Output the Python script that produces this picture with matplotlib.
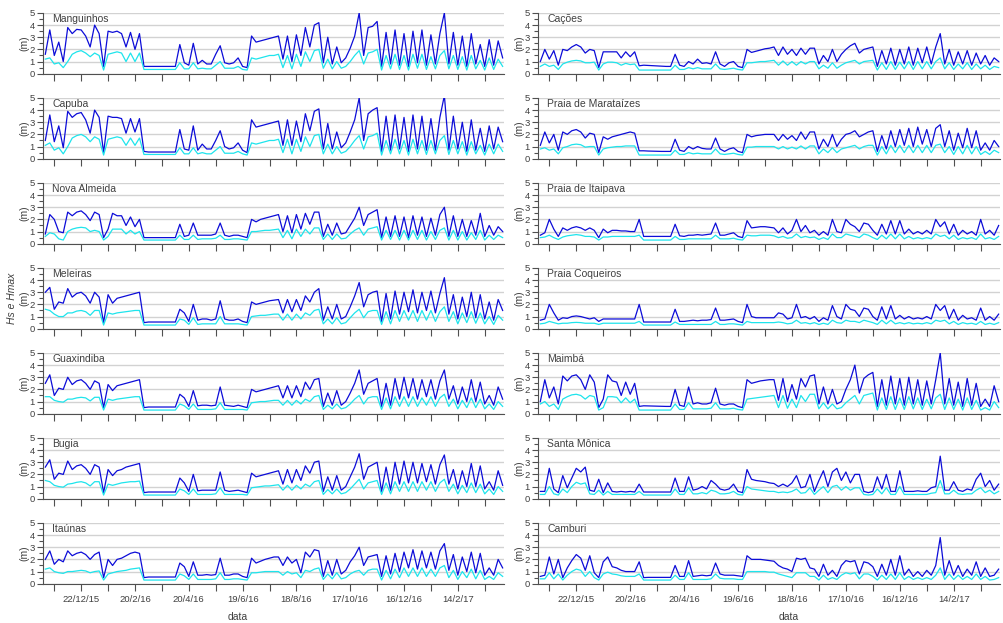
import matplotlib
matplotlib.use('Agg')
import matplotlib.pyplot as plt
import numpy as np
import pandas as pd

plt.rcParams['font.family'] = ['Liberation Sans', 'DejaVu Sans']

# datas das leituras (uma a cada 5 dias)
datas = pd.date_range('2015-11-12', periods=103, freq='5D')

estacoes_esq = ['Manguinhos', 'Capuba', 'Nova Almeida', 'Meleiras',
                'Guaxindiba', 'Bugia', 'Itaúnas']
estacoes_dir = ['Cações', 'Praia de Marataízes', 'Praia de Itaipava',
                'Praia Coqueiros', 'Maimbá', 'Santa Mônica', 'Camburi']

#******************************  Manguinhos

hmax_manguinhos = [1.6, 3.6, 1.5, 2.6, 1.0, 3.8, 3.3, 3.65, 3.6, 3.1,
                   2.2, 4.0, 3.3, 0.6, 3.5, 3.4, 3.5, 3.3, 2.2, 3.4,
                   2.0, 3.3, 0.6, 0.6, 0.6, 0.6, 0.6, 0.6, 0.6, 0.6,
                   2.4, 0.9, 0.7, 2.5, 0.8, 1.1, 0.8, 0.8, 1.6, 2.3,
                   0.9, 0.8, 0.9, 1.3, 0.6, 0.5, 3.1, 2.6, 2.7, 2.8,
                   2.9, 3.0, 3.1, 1.2, 3.1, 1.0, 3.2, 1.5, 3.8, 2.2,
                   4.0, 4.2, 0.9, 3.0, 0.8, 2.2, 0.9, 1.3, 2.1, 3.1,
                   5.0, 1.5, 3.8, 3.9, 4.3, 0.6, 3.4, 0.8, 3.6, 0.7,
                   3.3, 0.6, 3.5, 0.9, 3.6, 0.7, 3.2, 0.8, 3.3, 5.0,
                   0.8, 3.4, 0.7, 3.1, 0.6, 3.3, 0.8, 2.4, 0.6, 2.8,
                   0.7, 2.7, 1.3]
hs_manguinhos = [1.2, 1.3, 0.8, 0.9, 0.5, 1.0, 1.6, 1.8, 1.9, 1.7,
                 1.4, 1.7, 1.5, 0.3, 1.6, 1.7, 1.8, 1.7, 1.0, 1.7,
                 1.0, 1.7, 0.35, 0.35, 0.35, 0.35, 0.35, 0.35, 0.35, 0.35,
                 0.9, 0.4, 0.4, 0.9, 0.4, 0.45, 0.4, 0.4, 0.7, 1.0,
                 0.45, 0.45, 0.45, 0.6, 0.35, 0.3, 1.3, 1.2, 1.3, 1.4,
                 1.5, 1.5, 1.6, 0.5, 1.5, 0.4, 1.6, 0.6, 1.8, 1.0,
                 1.9, 2.0, 0.45, 1.2, 0.4, 1.0, 0.45, 0.6, 1.0, 1.5,
                 1.9, 0.8, 1.7, 1.8, 2.0, 0.3, 1.5, 0.4, 1.6, 0.35,
                 1.5, 0.3, 1.6, 0.45, 1.6, 0.35, 1.4, 0.4, 1.5, 1.9,
                 0.4, 1.5, 0.35, 1.4, 0.3, 1.5, 0.4, 1.1, 0.3, 1.3,
                 0.35, 1.2, 0.6]

#******************************  Capuba

hmax_capuba = [1.5, 3.6, 1.4, 2.7, 0.9, 3.9, 3.4, 3.7, 3.8, 3.2,
               2.1, 4.0, 3.4, 0.5, 3.5, 3.4, 3.4, 3.3, 2.1, 3.3,
               2.2, 3.3, 0.6, 0.55, 0.55, 0.55, 0.55, 0.55, 0.55, 0.55,
               2.4, 0.8, 0.7, 2.7, 0.7, 1.2, 0.8, 0.8, 1.5, 2.3,
               1.0, 0.8, 0.9, 1.3, 0.7, 0.5, 3.2, 2.6, 2.7, 2.8,
               2.9, 3.0, 3.1, 1.1, 3.2, 1.1, 3.1, 1.4, 3.7, 2.3,
               3.9, 4.1, 0.8, 2.9, 0.8, 2.2, 0.9, 1.3, 2.2, 3.2,
               5.0, 1.5, 3.7, 4.0, 4.2, 0.6, 3.5, 0.7, 3.6, 0.8,
               3.4, 0.6, 3.6, 0.8, 3.5, 0.7, 3.3, 0.7, 3.4, 5.2,
               0.7, 3.5, 0.8, 3.0, 0.6, 3.2, 0.7, 2.5, 0.6, 2.7,
               0.8, 2.6, 1.4]
hs_capuba = [1.1, 1.3, 0.7, 0.9, 0.4, 1.0, 1.7, 1.9, 2.0, 1.8,
             1.4, 1.8, 1.6, 0.3, 1.6, 1.7, 1.8, 1.7, 1.1, 1.7,
             1.1, 1.7, 0.35, 0.35, 0.35, 0.35, 0.35, 0.35, 0.35, 0.35,
             0.9, 0.4, 0.4, 0.9, 0.4, 0.5, 0.4, 0.4, 0.7, 1.0,
             0.45, 0.45, 0.45, 0.6, 0.4, 0.3, 1.3, 1.2, 1.3, 1.4,
             1.5, 1.5, 1.6, 0.5, 1.6, 0.4, 1.6, 0.6, 1.8, 1.0,
             1.9, 2.0, 0.4, 1.2, 0.4, 1.0, 0.45, 0.6, 1.0, 1.5,
             1.9, 0.8, 1.8, 1.9, 2.1, 0.3, 1.5, 0.4, 1.6, 0.4,
             1.5, 0.3, 1.6, 0.4, 1.5, 0.35, 1.5, 0.4, 1.5, 1.9,
             0.35, 1.5, 0.4, 1.4, 0.3, 1.4, 0.4, 1.1, 0.3, 1.2,
             0.4, 1.2, 0.6]

#******************************  Nova Almeida

hmax_nova_almeida = [0.8, 2.4, 2.0, 1.0, 0.9, 2.6, 2.3, 2.6, 2.7, 2.4,
                     1.9, 2.6, 2.4, 0.5, 1.2, 2.5, 2.3, 2.3, 1.5, 2.2,
                     1.4, 2.0, 0.5, 0.5, 0.5, 0.5, 0.5, 0.5, 0.5, 0.5,
                     1.6, 0.6, 0.7, 1.7, 0.7, 0.7, 0.7, 0.7, 0.8, 1.7,
                     0.7, 0.6, 0.7, 0.7, 0.6, 0.5, 2.0, 1.8, 2.0, 2.1,
                     2.2, 2.3, 2.4, 1.0, 2.3, 0.9, 2.4, 1.2, 2.5, 1.6,
                     2.6, 2.6, 0.6, 1.6, 0.7, 1.7, 0.8, 0.9, 1.5, 2.1,
                     3.0, 1.5, 2.4, 2.6, 2.8, 0.5, 2.2, 0.6, 2.3, 0.6,
                     2.2, 0.5, 2.3, 0.7, 2.2, 0.6, 2.1, 0.7, 2.4, 3.0,
                     0.6, 2.3, 0.6, 2.0, 0.6, 1.9, 0.7, 2.5, 0.6, 1.5,
                     0.7, 1.4, 1.0]
hs_nova_almeida = [0.6, 0.9, 0.8, 0.4, 0.3, 1.0, 1.2, 1.3, 1.35, 1.3,
                   1.0, 1.1, 1.0, 0.3, 0.6, 1.2, 1.2, 1.2, 0.8, 1.1,
                   0.8, 1.0, 0.3, 0.3, 0.3, 0.3, 0.3, 0.3, 0.3, 0.3,
                   0.7, 0.35, 0.35, 0.7, 0.35, 0.4, 0.4, 0.4, 0.45, 0.7,
                   0.35, 0.35, 0.4, 0.4, 0.35, 0.3, 1.0, 1.0, 1.05, 1.1,
                   1.1, 1.15, 1.2, 0.5, 1.1, 0.4, 1.2, 0.6, 1.2, 0.8,
                   1.3, 1.3, 0.35, 0.8, 0.35, 0.8, 0.4, 0.45, 0.8, 1.1,
                   1.3, 0.7, 1.2, 1.3, 1.4, 0.3, 1.1, 0.35, 1.1, 0.3,
                   1.1, 0.3, 1.1, 0.35, 1.1, 0.3, 1.0, 0.35, 1.1, 1.3,
                   0.3, 1.1, 0.3, 1.0, 0.3, 0.9, 0.35, 1.1, 0.3, 0.7,
                   0.35, 0.7, 0.5]

#******************************  Meleiras

hmax_meleiras = [3.0, 3.4, 1.6, 2.2, 2.1, 3.3, 2.6, 2.9, 3.0, 2.7,
                 2.1, 3.0, 2.6, 0.5, 2.8, 2.1, 2.5, 2.6, 2.7, 2.8,
                 2.9, 3.0, 0.5, 0.55, 0.55, 0.55, 0.55, 0.55, 0.55, 0.55,
                 1.6, 1.3, 0.6, 2.0, 0.7, 0.8, 0.8, 0.7, 0.8, 2.3,
                 0.8, 0.7, 0.7, 0.8, 0.6, 0.5, 2.2, 2.0, 2.1, 2.2,
                 2.3, 2.35, 2.4, 1.3, 2.4, 1.4, 2.4, 1.5, 2.7, 2.2,
                 3.0, 3.3, 0.7, 1.8, 0.8, 2.0, 0.8, 1.0, 1.8, 2.7,
                 3.8, 1.8, 2.8, 3.0, 3.1, 0.6, 2.9, 0.8, 3.1, 1.2,
                 3.0, 1.4, 3.2, 1.3, 3.0, 1.5, 3.1, 1.3, 2.9, 4.2,
                 1.2, 2.8, 0.8, 2.6, 1.0, 3.0, 0.9, 2.8, 0.8, 2.2,
                 0.7, 2.4, 1.5]
hs_meleiras = [1.6, 1.5, 1.2, 1.0, 1.0, 1.3, 1.3, 1.45, 1.5, 1.4,
               1.1, 1.5, 1.5, 0.3, 1.3, 1.2, 1.3, 1.35, 1.4, 1.45,
               1.5, 1.5, 0.3, 0.3, 0.3, 0.3, 0.3, 0.3, 0.3, 0.3,
               0.8, 0.7, 0.35, 0.9, 0.35, 0.4, 0.4, 0.4, 0.4, 1.0,
               0.4, 0.4, 0.4, 0.4, 0.35, 0.3, 1.0, 1.05, 1.1, 1.1,
               1.15, 1.2, 1.2, 0.7, 1.2, 0.7, 1.2, 0.8, 1.3, 1.1,
               1.5, 1.6, 0.4, 0.8, 0.4, 0.9, 0.4, 0.5, 0.9, 1.3,
               1.6, 0.9, 1.4, 1.5, 1.5, 0.35, 1.4, 0.4, 1.5, 0.6,
               1.5, 0.7, 1.5, 0.6, 1.5, 0.7, 1.5, 0.6, 1.4, 1.8,
               0.6, 1.4, 0.4, 1.3, 0.5, 1.4, 0.45, 1.3, 0.4, 1.0,
               0.35, 1.1, 0.7]

#******************************  Guaxindiba

hmax_guaxindiba = [2.5, 3.2, 1.5, 2.1, 2.0, 3.0, 2.4, 2.7, 2.8, 2.5,
                   2.0, 2.7, 2.5, 0.5, 2.4, 1.9, 2.3, 2.4, 2.5, 2.6,
                   2.7, 2.8, 0.5, 0.55, 0.55, 0.55, 0.55, 0.55, 0.55, 0.55,
                   1.6, 1.3, 0.6, 1.9, 0.65, 0.7, 0.7, 0.65, 0.7, 2.2,
                   0.7, 0.65, 0.6, 0.7, 0.6, 0.5, 2.0, 1.8, 1.9, 2.0,
                   2.1, 2.2, 2.3, 1.3, 2.3, 1.3, 2.3, 1.4, 2.6, 2.0,
                   2.8, 2.9, 0.6, 1.7, 0.7, 1.9, 0.7, 1.0, 1.7, 2.5,
                   3.6, 1.6, 2.5, 2.7, 2.9, 0.6, 2.5, 0.7, 2.9, 1.2,
                   3.0, 1.3, 2.9, 1.2, 2.8, 1.4, 2.8, 1.2, 2.7, 3.6,
                   1.2, 2.3, 0.8, 2.2, 1.0, 2.8, 1.0, 2.6, 0.8, 1.5,
                   0.7, 2.2, 1.2]
hs_guaxindiba = [1.4, 1.4, 1.1, 1.0, 0.95, 1.2, 1.2, 1.3, 1.35, 1.3,
                 1.05, 1.35, 1.35, 0.3, 1.2, 1.1, 1.2, 1.25, 1.3, 1.35,
                 1.4, 1.4, 0.3, 0.3, 0.3, 0.3, 0.3, 0.3, 0.3, 0.3,
                 0.8, 0.65, 0.35, 0.8, 0.35, 0.35, 0.35, 0.35, 0.4, 0.9,
                 0.35, 0.35, 0.35, 0.35, 0.35, 0.3, 0.9, 0.95, 1.0, 1.0,
                 1.05, 1.1, 1.1, 0.7, 1.1, 0.7, 1.1, 0.8, 1.2, 1.0,
                 1.4, 1.5, 0.35, 0.7, 0.4, 0.8, 0.4, 0.5, 0.8, 1.2,
                 1.5, 0.8, 1.3, 1.4, 1.4, 0.35, 1.3, 0.4, 1.4, 0.6,
                 1.4, 0.6, 1.4, 0.6, 1.3, 0.7, 1.4, 0.6, 1.3, 1.6,
                 0.6, 1.2, 0.4, 1.1, 0.5, 1.3, 0.5, 1.2, 0.4, 0.8,
                 0.35, 1.0, 0.6]

#******************************  Bugia

hmax_bugia = [2.6, 3.2, 1.6, 2.1, 2.0, 3.1, 2.4, 2.7, 2.8, 2.5,
              2.0, 2.8, 2.6, 0.5, 2.4, 1.9, 2.3, 2.4, 2.6, 2.7,
              2.8, 2.9, 0.5, 0.55, 0.55, 0.55, 0.55, 0.55, 0.55, 0.55,
              1.7, 1.3, 0.6, 2.0, 0.65, 0.7, 0.7, 0.7, 0.7, 2.2,
              0.7, 0.6, 0.65, 0.7, 0.6, 0.5, 2.1, 1.8, 1.9, 2.0,
              2.1, 2.2, 2.3, 1.2, 2.4, 1.3, 2.4, 1.5, 2.7, 2.1,
              3.0, 3.1, 0.6, 1.8, 0.7, 1.9, 0.7, 1.0, 1.8, 2.6,
              3.7, 1.6, 2.6, 2.8, 3.0, 0.6, 2.6, 0.7, 3.0, 1.2,
              3.1, 1.3, 3.0, 1.3, 2.9, 1.4, 2.8, 1.2, 2.8, 3.6,
              1.2, 2.4, 0.8, 2.3, 1.0, 2.9, 1.0, 2.7, 0.8, 1.4,
              0.7, 2.3, 1.1]
hs_bugia = [1.5, 1.4, 1.1, 1.0, 0.95, 1.2, 1.25, 1.35, 1.4, 1.3,
            1.05, 1.4, 1.4, 0.3, 1.2, 1.1, 1.2, 1.3, 1.35, 1.4,
            1.4, 1.45, 0.3, 0.3, 0.3, 0.3, 0.3, 0.3, 0.3, 0.3,
            0.8, 0.65, 0.35, 0.8, 0.35, 0.35, 0.35, 0.35, 0.4, 0.9,
            0.35, 0.35, 0.35, 0.35, 0.35, 0.3, 0.9, 0.95, 1.0, 1.05,
            1.05, 1.1, 1.15, 0.7, 1.1, 0.7, 1.1, 0.8, 1.2, 1.0,
            1.4, 1.5, 0.35, 0.75, 0.4, 0.8, 0.4, 0.5, 0.8, 1.2,
            1.6, 0.8, 1.3, 1.4, 1.5, 0.35, 1.3, 0.4, 1.4, 0.6,
            1.4, 0.6, 1.4, 0.6, 1.4, 0.7, 1.4, 0.6, 1.3, 1.6,
            0.6, 1.2, 0.4, 1.1, 0.5, 1.3, 0.5, 1.2, 0.4, 0.8,
            0.35, 1.0, 0.6]

#******************************  Itaúnas

hmax_itaunas = [2.0, 2.7, 1.6, 2.0, 1.8, 2.7, 2.3, 2.5, 2.6, 2.4,
                2.0, 2.4, 2.6, 0.5, 2.0, 1.5, 2.0, 2.1, 2.3, 2.5,
                2.6, 2.5, 0.5, 0.55, 0.55, 0.55, 0.55, 0.55, 0.55, 0.55,
                1.7, 1.4, 0.6, 1.8, 0.7, 0.7, 0.75, 0.7, 0.75, 2.1,
                0.7, 0.7, 0.8, 0.8, 0.6, 0.5, 2.1, 1.7, 1.85, 2.0,
                2.1, 2.2, 2.2, 1.5, 2.2, 1.7, 2.0, 0.9, 2.6, 2.2,
                2.8, 2.7, 0.6, 1.9, 0.7, 2.0, 0.8, 1.1, 1.8, 2.3,
                3.0, 1.5, 2.2, 2.3, 2.4, 0.6, 2.3, 0.8, 2.5, 1.0,
                2.6, 1.3, 2.8, 1.2, 2.7, 1.3, 2.6, 1.2, 2.7, 3.3,
                1.1, 2.4, 0.7, 2.2, 1.0, 2.6, 0.9, 2.5, 0.7, 1.3,
                0.7, 2.0, 1.3]
hs_itaunas = [1.2, 1.3, 1.0, 0.9, 0.85, 1.0, 1.0, 1.05, 1.1, 1.05,
              0.9, 1.0, 1.05, 0.3, 0.8, 0.9, 1.0, 1.05, 1.1, 1.2,
              1.25, 1.3, 0.3, 0.3, 0.3, 0.3, 0.3, 0.3, 0.3, 0.3,
              0.8, 0.65, 0.35, 0.8, 0.35, 0.35, 0.35, 0.35, 0.4, 0.9,
              0.35, 0.35, 0.4, 0.4, 0.35, 0.3, 0.9, 0.9, 0.95, 1.0,
              1.0, 1.0, 1.0, 0.7, 1.0, 0.8, 0.9, 0.5, 1.1, 1.0,
              1.2, 1.3, 0.35, 0.8, 0.4, 0.9, 0.4, 0.5, 0.8, 1.0,
              1.1, 0.7, 1.1, 1.2, 1.2, 0.3, 1.1, 0.4, 1.2, 0.5,
              1.3, 0.6, 1.3, 0.6, 1.3, 0.6, 1.2, 0.6, 1.3, 1.5,
              0.5, 1.1, 0.35, 1.0, 0.5, 1.2, 0.4, 1.1, 0.35, 0.6,
              0.35, 0.9, 0.6]

#******************************  Cações

hmax_cacoes = [1.0, 2.0, 1.2, 1.9, 0.7, 2.0, 1.9, 2.2, 2.4, 2.2,
               1.7, 2.0, 1.9, 0.5, 1.8, 1.8, 1.8, 1.8, 1.3, 1.8,
               1.4, 1.8, 0.65, 0.7, 0.68, 0.66, 0.64, 0.62, 0.6, 0.6,
               1.6, 0.7, 0.6, 1.0, 0.8, 1.2, 0.85, 0.9, 0.8, 1.8,
               0.8, 0.6, 0.9, 1.0, 0.6, 0.5, 2.0, 1.75, 1.85, 1.95,
               2.05, 2.1, 2.2, 1.5, 2.2, 1.6, 2.0, 1.5, 2.1, 1.6,
               2.1, 2.1, 0.8, 1.5, 1.0, 2.0, 1.0, 1.6, 2.0, 2.3,
               2.5, 1.7, 2.0, 2.1, 2.2, 0.6, 1.9, 0.8, 2.1, 0.7,
               2.0, 0.8, 2.2, 0.7, 2.1, 0.9, 2.2, 0.8, 2.2, 3.3,
               0.8, 2.0, 0.7, 1.8, 0.8, 1.9, 0.7, 1.7, 0.8, 1.5,
               0.7, 1.3, 1.0]
hs_cacoes = [0.6, 0.8, 0.6, 0.7, 0.35, 0.8, 0.95, 1.05, 1.1, 1.05,
             0.9, 0.9, 0.95, 0.3, 0.8, 0.95, 0.95, 0.9, 0.7, 0.85,
             0.75, 0.8, 0.3, 0.3, 0.3, 0.3, 0.3, 0.3, 0.3, 0.3,
             0.7, 0.35, 0.35, 0.5, 0.4, 0.5, 0.4, 0.4, 0.4, 0.8,
             0.4, 0.35, 0.4, 0.45, 0.35, 0.3, 0.9, 0.9, 0.95, 1.0,
             1.0, 1.05, 1.1, 0.7, 1.05, 0.7, 1.0, 0.7, 1.0, 0.8,
             1.0, 1.0, 0.4, 0.7, 0.45, 0.9, 0.45, 0.7, 0.9, 1.0,
             1.1, 0.8, 1.0, 1.05, 1.1, 0.3, 0.9, 0.35, 1.0, 0.35,
             0.95, 0.4, 1.0, 0.35, 1.0, 0.4, 1.0, 0.4, 1.0, 1.3,
             0.4, 0.9, 0.35, 0.8, 0.4, 0.9, 0.35, 0.8, 0.4, 0.7,
             0.35, 0.6, 0.5]

#******************************  Praia de Marataízes

hmax_marataizes = [1.1, 2.2, 1.3, 2.0, 0.7, 2.2, 2.0, 2.3, 2.4, 2.2,
                   1.7, 2.1, 2.0, 0.5, 1.8, 1.6, 1.8, 1.9, 2.0, 2.1,
                   2.2, 2.1, 0.65, 0.65, 0.63, 0.62, 0.61, 0.6, 0.6, 0.6,
                   1.6, 0.7, 0.6, 1.0, 0.8, 1.0, 0.85, 0.8, 0.8, 1.7,
                   0.8, 0.6, 0.8, 0.9, 0.6, 0.5, 2.0, 1.8, 1.9, 1.95,
                   2.0, 2.0, 2.0, 1.5, 2.0, 1.6, 1.9, 1.5, 2.2, 1.6,
                   2.2, 2.2, 0.8, 1.6, 1.0, 2.0, 1.0, 1.6, 2.0, 2.1,
                   2.3, 1.8, 2.0, 2.2, 2.3, 0.6, 1.9, 0.8, 2.3, 1.0,
                   2.4, 1.1, 2.5, 1.0, 2.6, 1.2, 2.4, 1.0, 2.5, 2.8,
                   1.0, 2.3, 0.7, 2.1, 0.9, 2.5, 0.9, 2.3, 0.7, 1.3,
                   0.7, 1.5, 1.0]
hs_marataizes = [0.8, 0.9, 0.7, 0.8, 0.4, 0.9, 1.0, 1.15, 1.2, 1.15,
                 0.95, 1.0, 1.0, 0.3, 0.8, 0.9, 0.95, 1.0, 1.0, 1.05,
                 1.05, 1.05, 0.3, 0.3, 0.3, 0.3, 0.3, 0.3, 0.3, 0.3,
                 0.7, 0.35, 0.35, 0.5, 0.4, 0.45, 0.4, 0.4, 0.4, 0.8,
                 0.4, 0.35, 0.4, 0.45, 0.35, 0.3, 0.95, 0.95, 1.0, 1.0,
                 1.0, 1.0, 1.0, 0.8, 1.0, 0.8, 0.95, 0.8, 1.05, 0.8,
                 1.05, 1.05, 0.4, 0.8, 0.5, 0.9, 0.5, 0.8, 0.9, 1.0,
                 1.1, 0.8, 1.0, 1.1, 1.1, 0.3, 1.0, 0.4, 1.1, 0.5,
                 1.1, 0.5, 1.1, 0.5, 1.1, 0.5, 1.1, 0.5, 1.1, 1.2,
                 0.5, 1.0, 0.35, 1.0, 0.4, 1.1, 0.4, 1.0, 0.35, 0.6,
                 0.35, 0.7, 0.5]

#******************************  Praia de Itaipava

hmax_itaipava = [0.7, 0.9, 2.0, 1.2, 0.6, 1.3, 1.1, 1.3, 1.4, 1.3,
                 1.1, 1.3, 1.1, 0.5, 1.2, 0.9, 1.1, 1.1, 1.05, 1.05,
                 1.0, 1.0, 2.0, 0.6, 0.6, 0.6, 0.6, 0.6, 0.6, 0.6,
                 1.6, 0.65, 0.6, 0.7, 0.7, 0.75, 0.7, 0.75, 0.8, 1.7,
                 0.7, 0.7, 0.8, 0.9, 0.6, 0.5, 1.9, 1.3, 1.35, 1.4,
                 1.4, 1.35, 1.3, 0.9, 1.3, 0.8, 1.1, 2.0, 1.0, 1.5,
                 0.9, 1.1, 0.7, 1.0, 0.7, 2.0, 1.0, 0.9, 2.0, 1.6,
                 1.4, 1.0, 1.7, 1.6, 1.1, 0.7, 1.6, 0.8, 1.9, 0.8,
                 1.9, 0.8, 1.2, 0.8, 1.0, 0.8, 1.1, 0.8, 2.0, 1.4,
                 1.8, 0.8, 1.6, 0.7, 1.1, 0.8, 1.0, 0.7, 2.0, 0.8,
                 1.1, 0.7, 1.5]
hs_itaipava = [0.5, 0.55, 0.7, 0.5, 0.35, 0.55, 0.65, 0.7, 0.75, 0.7,
               0.6, 0.6, 0.55, 0.3, 0.55, 0.55, 0.6, 0.6, 0.6, 0.6,
               0.6, 0.6, 0.7, 0.3, 0.3, 0.3, 0.3, 0.3, 0.3, 0.3,
               0.6, 0.35, 0.35, 0.4, 0.4, 0.4, 0.4, 0.4, 0.4, 0.7,
               0.4, 0.4, 0.4, 0.45, 0.35, 0.3, 0.7, 0.65, 0.65, 0.7,
               0.7, 0.7, 0.65, 0.5, 0.6, 0.45, 0.5, 0.8, 0.5, 0.6,
               0.5, 0.55, 0.35, 0.5, 0.35, 0.8, 0.5, 0.5, 0.8, 0.7,
               0.6, 0.5, 0.8, 0.7, 0.5, 0.35, 0.7, 0.4, 0.8, 0.4,
               0.8, 0.4, 0.6, 0.4, 0.5, 0.4, 0.5, 0.4, 0.8, 0.6,
               0.7, 0.4, 0.7, 0.35, 0.5, 0.4, 0.5, 0.35, 0.8, 0.4,
               0.5, 0.35, 0.6]

#******************************  Praia Coqueiros

hmax_coqueiros = [0.7, 0.8, 2.0, 1.3, 0.7, 0.9, 0.85, 1.0, 1.05, 1.0,
                  0.9, 0.8, 0.9, 0.6, 0.8, 0.8, 0.8, 0.8, 0.8, 0.8,
                  0.8, 0.8, 2.0, 0.55, 0.55, 0.55, 0.55, 0.55, 0.55, 0.55,
                  1.6, 0.6, 0.6, 0.65, 0.7, 0.65, 0.7, 0.7, 0.75, 1.7,
                  0.7, 0.7, 0.75, 0.8, 0.6, 0.5, 2.0, 1.0, 0.9, 0.9,
                  0.9, 0.9, 0.9, 1.3, 1.2, 0.8, 0.9, 2.0, 0.9, 1.0,
                  0.8, 1.0, 0.6, 0.9, 0.7, 1.9, 1.0, 0.8, 2.0, 1.6,
                  1.5, 1.0, 1.7, 1.6, 1.0, 0.7, 1.8, 0.8, 1.9, 0.8,
                  1.1, 0.8, 1.0, 0.8, 0.9, 0.8, 1.0, 0.8, 2.0, 1.5,
                  1.9, 0.8, 1.6, 0.7, 1.1, 0.8, 0.9, 0.7, 1.7, 0.7,
                  1.0, 0.7, 1.2]
hs_coqueiros = [0.4, 0.45, 0.6, 0.5, 0.4, 0.45, 0.45, 0.5, 0.52, 0.5,
                0.45, 0.45, 0.45, 0.35, 0.45, 0.45, 0.45, 0.45, 0.45, 0.45,
                0.45, 0.45, 0.6, 0.3, 0.3, 0.3, 0.3, 0.3, 0.3, 0.3,
                0.55, 0.35, 0.35, 0.35, 0.35, 0.35, 0.35, 0.35, 0.35, 0.6,
                0.35, 0.35, 0.4, 0.4, 0.35, 0.3, 0.6, 0.5, 0.5, 0.5,
                0.5, 0.5, 0.5, 0.55, 0.5, 0.4, 0.45, 0.7, 0.45, 0.5,
                0.4, 0.5, 0.35, 0.45, 0.35, 0.7, 0.5, 0.45, 0.7, 0.6,
                0.6, 0.5, 0.7, 0.6, 0.5, 0.35, 0.7, 0.4, 0.7, 0.4,
                0.5, 0.4, 0.5, 0.4, 0.45, 0.4, 0.5, 0.4, 0.7, 0.6,
                0.7, 0.4, 0.6, 0.35, 0.5, 0.4, 0.45, 0.35, 0.6, 0.35,
                0.45, 0.35, 0.5]

#******************************  Maimbá

hmax_maimba = [1.0, 2.8, 1.3, 2.2, 0.8, 3.1, 2.7, 3.1, 3.2, 2.8,
               2.0, 3.2, 2.6, 0.5, 1.2, 3.2, 2.7, 2.6, 1.5, 2.6,
               1.6, 2.5, 0.6, 0.65, 0.64, 0.63, 0.62, 0.61, 0.6, 0.6,
               2.0, 0.7, 0.6, 2.2, 0.8, 0.9, 0.8, 0.8, 0.9, 2.1,
               0.8, 0.7, 0.8, 0.8, 0.6, 0.5, 2.8, 2.5, 2.6, 2.7,
               2.75, 2.8, 2.8, 1.1, 2.9, 1.0, 2.4, 1.2, 2.9, 2.2,
               3.1, 3.2, 0.8, 2.2, 0.8, 2.0, 0.8, 1.0, 2.0, 2.8,
               4.0, 1.7, 2.9, 3.2, 3.4, 0.6, 2.8, 0.7, 3.1, 0.8,
               2.9, 0.7, 3.0, 0.8, 2.8, 0.7, 2.7, 0.8, 2.8, 5.0,
               0.8, 2.9, 0.7, 2.6, 0.6, 2.9, 0.7, 2.5, 0.6, 1.2,
               0.6, 2.3, 1.0]
hs_maimba = [0.8, 1.0, 0.6, 0.8, 0.35, 1.2, 1.4, 1.55, 1.6, 1.5,
             1.2, 1.5, 1.4, 0.3, 0.5, 1.4, 1.4, 1.35, 0.9, 1.3,
             0.9, 1.2, 0.3, 0.3, 0.3, 0.3, 0.3, 0.3, 0.3, 0.3,
             0.8, 0.35, 0.35, 0.9, 0.4, 0.4, 0.4, 0.4, 0.45, 0.9,
             0.4, 0.4, 0.4, 0.45, 0.35, 0.3, 1.2, 1.25, 1.3, 1.35,
             1.4, 1.45, 1.5, 0.5, 1.5, 0.45, 1.2, 0.5, 1.5, 1.0,
             1.6, 1.6, 0.4, 0.9, 0.4, 0.8, 0.4, 0.5, 0.9, 1.2,
             1.5, 0.8, 1.5, 1.6, 1.7, 0.3, 1.3, 0.35, 1.4, 0.35,
             1.3, 0.35, 1.4, 0.4, 1.3, 0.35, 1.2, 0.4, 1.3, 1.6,
             0.35, 1.3, 0.35, 1.2, 0.3, 1.3, 0.35, 1.1, 0.3, 0.5,
             0.3, 1.0, 0.5]

#******************************  Santa Mônica

hmax_santa_monica = [0.6, 0.6, 2.5, 0.8, 0.5, 1.9, 0.9, 1.7, 2.5, 2.2,
                     2.6, 0.7, 0.6, 1.6, 0.5, 1.3, 0.6, 0.55, 0.6, 0.55,
                     0.6, 0.55, 1.2, 0.55, 0.55, 0.55, 0.55, 0.55, 0.55, 0.55,
                     1.7, 0.6, 0.6, 1.8, 0.7, 0.8, 1.0, 0.8, 1.5, 1.2,
                     0.8, 0.7, 0.8, 1.2, 0.6, 0.5, 2.4, 1.6, 1.5, 1.45,
                     1.4, 1.3, 1.25, 1.0, 1.2, 1.0, 1.3, 1.9, 0.9, 1.0,
                     2.0, 0.6, 1.5, 2.3, 1.0, 2.2, 2.5, 1.5, 2.2, 1.3,
                     2.0, 2.0, 0.6, 0.5, 0.6, 1.8, 0.8, 2.0, 0.6, 0.6,
                     2.3, 0.6, 0.6, 0.6, 0.65, 0.6, 0.6, 0.9, 1.0, 3.5,
                     0.7, 0.7, 1.4, 0.7, 0.6, 0.8, 0.7, 1.6, 2.1, 1.0,
                     1.5, 0.7, 1.2]
hs_santa_monica = [0.35, 0.35, 1.0, 0.4, 0.3, 0.8, 0.5, 1.0, 1.35, 1.2,
                   1.3, 0.4, 0.35, 0.7, 0.3, 0.6, 0.35, 0.35, 0.35, 0.35,
                   0.35, 0.35, 0.6, 0.3, 0.3, 0.3, 0.3, 0.3, 0.3, 0.3,
                   0.8, 0.35, 0.35, 0.9, 0.4, 0.4, 0.5, 0.4, 0.7, 0.6,
                   0.4, 0.4, 0.45, 0.6, 0.35, 0.3, 1.0, 0.8, 0.75, 0.7,
                   0.65, 0.6, 0.6, 0.5, 0.55, 0.5, 0.6, 0.8, 0.45, 0.5,
                   0.9, 0.35, 0.7, 1.0, 0.5, 1.0, 1.1, 0.7, 1.0, 0.7,
                   0.9, 0.9, 0.35, 0.3, 0.35, 0.8, 0.4, 0.9, 0.35, 0.35,
                   1.0, 0.35, 0.35, 0.35, 0.35, 0.35, 0.35, 0.45, 0.5, 1.5,
                   0.4, 0.4, 0.7, 0.4, 0.35, 0.4, 0.4, 0.7, 0.9, 0.5,
                   0.7, 0.4, 0.6]

#******************************  Camburi

hmax_camburi = [0.6, 0.7, 2.2, 0.8, 2.0, 0.5, 1.3, 1.9, 2.4, 2.1,
                1.1, 2.3, 0.9, 0.5, 1.8, 2.2, 1.4, 1.3, 1.1, 1.0,
                1.0, 1.0, 1.8, 0.5, 0.52, 0.52, 0.52, 0.52, 0.52, 0.52,
                1.5, 0.6, 0.6, 1.9, 0.6, 0.65, 0.7, 0.65, 0.7, 1.7,
                0.8, 0.7, 0.7, 0.7, 0.65, 0.6, 2.3, 2.0, 2.0, 2.0,
                1.95, 1.9, 1.85, 1.5, 1.3, 1.2, 1.0, 2.1, 2.0, 2.1,
                1.3, 1.2, 0.6, 1.6, 0.7, 1.1, 0.6, 1.5, 1.9, 1.8,
                1.9, 0.8, 1.8, 1.7, 1.4, 0.6, 1.6, 0.7, 2.0, 0.7,
                2.3, 0.7, 1.2, 0.6, 1.0, 0.6, 1.1, 0.7, 1.5, 3.8,
                0.7, 1.9, 0.7, 1.5, 0.6, 1.2, 0.7, 1.8, 0.6, 1.3,
                0.6, 0.7, 1.2]
hs_camburi = [0.4, 0.4, 0.9, 0.4, 0.8, 0.3, 0.7, 1.0, 1.2, 1.1,
              0.6, 1.0, 0.5, 0.3, 0.8, 0.95, 0.8, 0.75, 0.65, 0.6,
              0.6, 0.6, 0.8, 0.3, 0.3, 0.3, 0.3, 0.3, 0.3, 0.3,
              0.7, 0.35, 0.35, 0.9, 0.35, 0.35, 0.35, 0.35, 0.4, 0.8,
              0.45, 0.4, 0.4, 0.4, 0.35, 0.35, 1.0, 1.0, 1.0, 1.0,
              1.0, 0.95, 0.95, 0.8, 0.7, 0.6, 0.5, 0.9, 0.9, 0.9,
              0.6, 0.6, 0.3, 0.7, 0.35, 0.5, 0.35, 0.7, 0.9, 0.8,
              0.9, 0.4, 0.8, 0.8, 0.6, 0.3, 0.7, 0.35, 0.8, 0.35,
              0.9, 0.35, 0.6, 0.35, 0.5, 0.35, 0.5, 0.35, 0.7, 1.3,
              0.35, 0.8, 0.35, 0.7, 0.35, 0.6, 0.35, 0.8, 0.35, 0.6,
              0.3, 0.35, 0.5]

#******************************

series = {
    'Manguinhos': (hmax_manguinhos, hs_manguinhos),
    'Capuba': (hmax_capuba, hs_capuba),
    'Nova Almeida': (hmax_nova_almeida, hs_nova_almeida),
    'Meleiras': (hmax_meleiras, hs_meleiras),
    'Guaxindiba': (hmax_guaxindiba, hs_guaxindiba),
    'Bugia': (hmax_bugia, hs_bugia),
    'Itaúnas': (hmax_itaunas, hs_itaunas),
    'Cações': (hmax_cacoes, hs_cacoes),
    'Praia de Marataízes': (hmax_marataizes, hs_marataizes),
    'Praia de Itaipava': (hmax_itaipava, hs_itaipava),
    'Praia Coqueiros': (hmax_coqueiros, hs_coqueiros),
    'Maimbá': (hmax_maimba, hs_maimba),
    'Santa Mônica': (hmax_santa_monica, hs_santa_monica),
    'Camburi': (hmax_camburi, hs_camburi),
}
for nome, (a, b) in series.items():
    assert len(a) == len(datas) and len(b) == len(datas), (nome, len(a), len(b))

# marcas do eixo x: a cada 30 dias, rotulo em uma sim outra nao
marcas = pd.date_range('2015-11-22', periods=17, freq='30D')
rotulos = [f'{t.day}/{t.month}/{t:%y}' if i % 2 == 1 else '' for i, t in enumerate(marcas)]
xini = pd.Timestamp('2015-11-09 18:00')
xfim = pd.Timestamp('2017-04-06 12:00')

cor_hmax = '#0c0cd8'
cor_hs = '#1ee4ec'
cor_txt = '#404040'

W, H = 1004, 623
fig = plt.figure(figsize=(W / 100, H / 100), dpi=100)

colunas = [(43.3, 504.0, estacoes_esq), (538.3, 1000.0, estacoes_dir)]
for x0, x1, nomes in colunas:
    for i, nome in enumerate(nomes):
        topo = 12.7 + 85.0 * i
        alt = 61.0
        ax = fig.add_axes([x0 / W, 1 - (topo + alt) / H, (x1 - x0) / W, alt / H])
        hmax, hs = series[nome]
        ax.plot(datas, hmax, color=cor_hmax, lw=0.9)
        ax.plot(datas, hs, color=cor_hs, lw=0.9)

        ax.set_xlim(xini, xfim)
        ax.set_ylim(0, 5.02)
        ax.set_yticks(range(6))
        ax.set_yticks(np.arange(0, 5.01, 0.5), minor=True)
        ax.grid(axis='y', which='major', color='#d2d2d2', lw=1.0)
        ax.set_axisbelow(True)
        ax.set_xticks(marcas)
        if i == len(nomes) - 1:
            ax.set_xticklabels(rotulos)
        else:
            ax.set_xticklabels([''] * len(marcas))

        for lado in ['top', 'right']:
            ax.spines[lado].set_visible(False)
        for lado in ['left', 'bottom']:
            ax.spines[lado].set_color('#505050')
            ax.spines[lado].set_linewidth(0.8)
        ax.tick_params(axis='both', which='both', colors='#505050', labelcolor=cor_txt,
                       labelsize=6.8, width=0.8)
        ax.tick_params(axis='y', which='major', length=4, pad=2)
        ax.tick_params(axis='y', which='minor', length=3)
        ax.tick_params(axis='x', which='major', length=5, pad=3)

        ax.text(0.019, 0.89, nome, transform=ax.transAxes, fontsize=7.5,
                color=cor_txt, va='center', ha='left')
        ax.set_ylabel('(m)', fontsize=7.5, color=cor_txt)
        ax.yaxis.set_label_coords(-14.0 / (x1 - x0), 0.5)

        if nome == 'Meleiras':
            ax.text(-31.0 / (x1 - x0), 0.5, 'Hs e Hmax', transform=ax.transAxes,
                    rotation=90, fontsize=7.5, style='italic', color=cor_txt,
                    ha='center', va='center')

fig.text(238 / W, 1 - 617 / H, 'data', fontsize=7.5, color=cor_txt, ha='center', va='center')
fig.text(789 / W, 1 - 617 / H, 'data', fontsize=7.5, color=cor_txt, ha='center', va='center')

fig.savefig('out.png', dpi=100)
